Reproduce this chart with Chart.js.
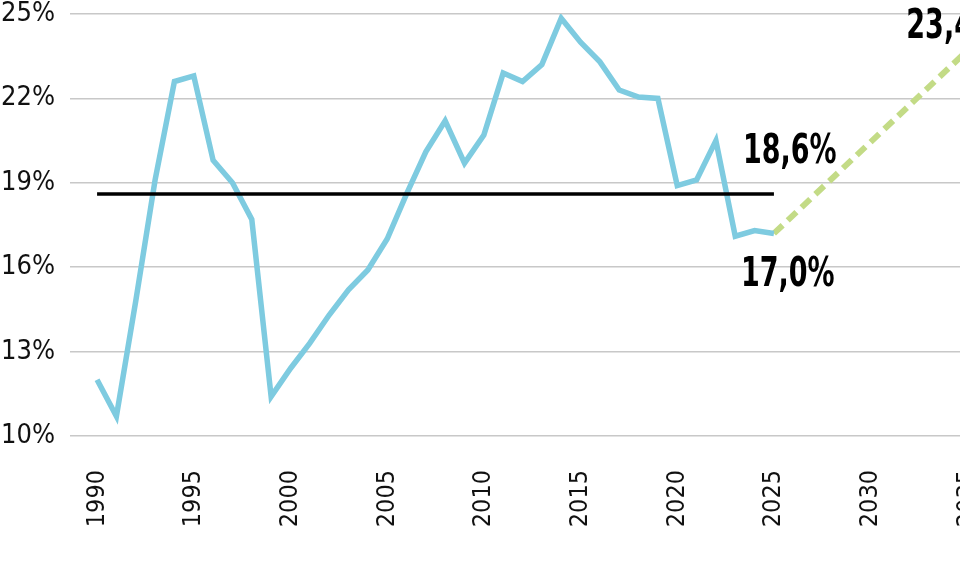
<!DOCTYPE html>
<html>
<head>
<meta charset="utf-8">
<title>Share chart</title>
<script src="https://cdn.jsdelivr.net/npm/chart.js@4"></script>
<style>
  html, body { margin: 0; padding: 0; background: #fff; overflow: hidden; }
  #wrap { width: 1006px; height: 567px; }
</style>
</head>
<body>
<div id="wrap"><canvas id="shareChart"></canvas></div>
<script>
var years = [1990, 1991, 1992, 1993, 1994, 1995, 1996, 1997, 1998, 1999,
  2000, 2001, 2002, 2003, 2004, 2005, 2006, 2007, 2008, 2009,
  2010, 2011, 2012, 2013, 2014, 2015, 2016, 2017, 2018, 2019,
  2020, 2021, 2022, 2023, 2024, 2025];
var shareValues = [12.0, 10.7, 14.8, 19.1, 22.6, 22.8, 19.8, 19.0, 17.7, 11.4,
  12.4, 13.3, 14.3, 15.2, 15.9, 17.0, 18.6, 20.1, 21.2, 19.7,
  20.7, 22.9, 22.6, 23.2, 24.85, 24.0, 23.3, 22.3, 22.05, 22.0,
  18.9, 19.1, 20.5, 17.1, 17.3, 17.2];
var avgYears = [1990, 2025];
var avgValues = [18.6, 18.6];
var forecastYears = [2025, 2035];
var forecastValues = [17.2, 23.7];
var xTicks = [1990, 1995, 2000, 2005, 2010, 2015, 2020, 2025, 2030, 2035];
var yTicks = [10, 13, 16, 19, 22, 25];
var calloutLabels = ["18,6%", "17,0%", "23,4%"];

function toPoints(xs, ys) {
  return xs.map(function (x, i) { return { x: x, y: ys[i] }; });
}

var condensed = "'DejaVu Sans Condensed', 'Liberation Sans Narrow', sans-serif";

// big bold numbers next to the line ends (squeezed to look like a condensed face)
var calloutPlugin = {
  id: "callouts",
  afterDatasetsDraw: function (chart) {
    var ctx = chart.ctx;
    var xs = chart.scales.x, ys = chart.scales.y;
    var anchors = [
      { x: avgYears[avgYears.length - 1], y: avgValues[avgValues.length - 1], dx: -31, dy: -31 },
      { x: years[years.length - 1], y: shareValues[shareValues.length - 1], dx: -33, dy: 53 },
      { x: forecastYears[forecastYears.length - 1], y: forecastValues[forecastValues.length - 1], dx: -61, dy: -13 }
    ];
    ctx.save();
    ctx.fillStyle = "#000";
    ctx.font = "bold 40px " + condensed;
    ctx.textAlign = "left";
    ctx.textBaseline = "alphabetic";
    anchors.forEach(function (a, i) {
      ctx.save();
      ctx.translate(xs.getPixelForValue(a.x) + a.dx, ys.getPixelForValue(a.y) + a.dy);
      ctx.scale(0.75, 1);
      ctx.fillText(calloutLabels[i], 0, 0);
      ctx.restore();
    });
    ctx.restore();
  }
};

var ctx = document.getElementById("shareChart").getContext("2d");
var shareChart = new Chart(ctx, {
  type: "line",
  data: {
    datasets: [
      {
        label: "Average",
        data: toPoints(avgYears, avgValues),
        borderColor: "#000000",
        borderWidth: 3.5,
        pointRadius: 0,
        order: 0,
      },
      {
        label: "Share",
        data: toPoints(years, shareValues),
        borderColor: "#7ecbe0",
        borderWidth: 5.5,
        pointRadius: 0,
        tension: 0,
        order: 1,
      },
      {
        label: "Forecast",
        data: toPoints(forecastYears, forecastValues),
        borderColor: "#c3db86",
        borderWidth: 6,
        borderDash: [12, 7],
        pointRadius: 0,
        order: 2,
      },
    ],
  },
  options: {
    responsive: true,
    maintainAspectRatio: false,
    animation: false,
    layout: { padding: { top: 14, right: 0, bottom: 0, left: 0 } },
    plugins: {
      legend: { display: false },
      tooltip: { enabled: false },
    },
    scales: {
      x: {
        type: "linear",
        min: 1988.6,
        max: 2037,
        grid: { display: false },
        border: { display: false },
        afterBuildTicks: function (scale) {
          scale.ticks = xTicks.map(function (v) { return { value: v }; });
        },
        afterFit: function (scale) {
          scale.height = 131;
          scale.paddingLeft = 0;
          scale.paddingRight = 0;
        },
        ticks: {
          autoSkip: false,
          minRotation: 90,
          maxRotation: 90,
          padding: 26,
          color: "#111",
          font: { family: condensed, size: 25 },
          callback: function (v) { return String(v); },
        },
      },
      y: {
        min: 10,
        max: 25,
        grid: { color: "#c8c8c8", lineWidth: 1.5, drawTicks: false },
        border: { display: false },
        afterBuildTicks: function (scale) {
          scale.ticks = yTicks.map(function (v) { return { value: v }; });
        },
        afterFit: function (scale) {
          scale.width = 70;
          scale.paddingTop = 0;
          scale.paddingBottom = 0;
        },
        ticks: {
          padding: 15,
          color: "#111",
          font: { family: condensed, size: 27 },
          callback: function (v) { return v + "%"; },
        },
      },
    },
  },
  plugins: [calloutPlugin],
});
</script>
</body>
</html>
